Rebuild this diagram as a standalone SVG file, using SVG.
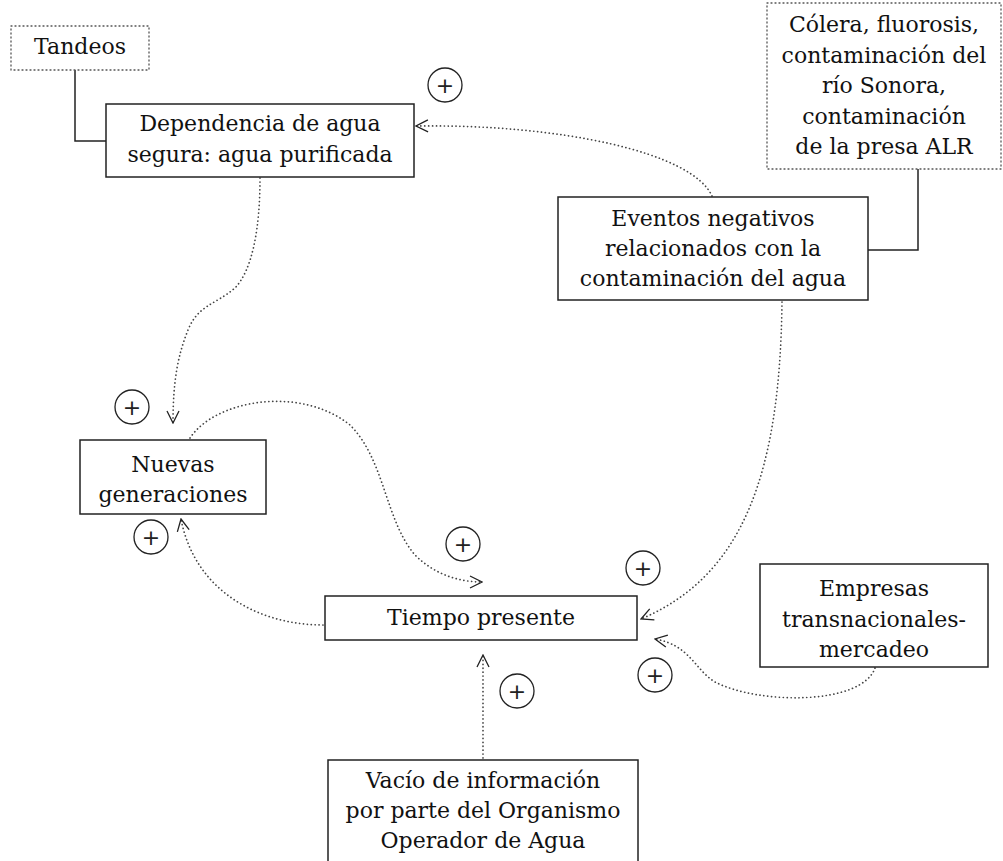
<svg xmlns="http://www.w3.org/2000/svg" width="1003" height="861" viewBox="0 0 1003 861">
  <style>
    .box { fill: #fff; stroke: #222; stroke-width: 1.5; }
    .note { fill: #fff; stroke: #555; stroke-width: 1.3; stroke-dasharray: 1 3; stroke-linecap: round; }
    .lbl { font-family: "DejaVu Serif", "Liberation Serif", serif; font-size: 22px; fill: #111; text-anchor: middle; }
    .link { fill: none; stroke: #444; stroke-width: 1.7; stroke-dasharray: 0.1 3.8; stroke-linecap: round; }
    .tie { fill: none; stroke: #222; stroke-width: 1.5; }
    .sign circle { fill: #fff; stroke: #222; stroke-width: 1.3; }
    .sign text { font-family: "DejaVu Sans", sans-serif; font-size: 22px; fill: #222; text-anchor: middle; }
  </style>
  <defs>
    <marker id="chev" viewBox="0 0 14 14" refX="13" refY="7" markerWidth="14" markerHeight="14" markerUnits="userSpaceOnUse" orient="auto">
      <path d="M1,1 L13,7 L1,13" fill="none" stroke="#222" stroke-width="1.3"/>
    </marker>
  </defs>
  <rect width="1003" height="861" fill="#fff"/>

  <!-- connectors -->
  <g id="connectors">
    <polyline class="tie" points="75,70 75,141 106,141"/>
    <polyline class="tie" points="918,169 918,250 868,250"/>
    <path class="link" marker-end="url(#chev)" d="M712,196 C692,152 560,124 416,126"/>
    <path class="link" marker-end="url(#chev)" d="M260,178 C260,230 252,270 235,288 C215,305 198,305 188,330 C178,355 173,380 173,423"/>
    <path class="link" marker-end="url(#chev)" d="M190,438 C215,400 300,385 350,425 C385,460 385,520 415,555 C435,575 460,582 482,582"/>
    <path class="link" marker-end="url(#chev)" d="M323,625 C260,625 195,592 181,519"/>
    <path class="link" marker-end="url(#chev)" d="M782,302 C780,470 745,575 641,619"/>
    <path class="link" marker-end="url(#chev)" d="M875,668 C862,705 760,705 715,682 C695,670 690,645 655,639"/>
    <path class="link" marker-end="url(#chev)" d="M483,758 L483,655"/>
  </g>

  <!-- polarity signs -->
  <g class="sign" id="sign-1"><circle cx="445" cy="85" r="17"/><text x="445" y="93">+</text></g>
  <g class="sign" id="sign-2"><circle cx="132" cy="407" r="17"/><text x="132" y="415">+</text></g>
  <g class="sign" id="sign-3"><circle cx="151" cy="537" r="17"/><text x="151" y="545">+</text></g>
  <g class="sign" id="sign-4"><circle cx="463" cy="544" r="17"/><text x="463" y="552">+</text></g>
  <g class="sign" id="sign-5"><circle cx="643" cy="568" r="17"/><text x="643" y="576">+</text></g>
  <g class="sign" id="sign-6"><circle cx="655" cy="675" r="17"/><text x="655" y="683">+</text></g>
  <g class="sign" id="sign-7"><circle cx="517" cy="691" r="17"/><text x="517" y="699">+</text></g>

  <g id="tandeos">
    <rect class="note" x="11" y="26" width="138" height="44"/>
    <text class="lbl" x="80" y="54">Tandeos</text>
  </g>

  <g id="dependencia">
    <rect class="box" x="106" y="104" width="308" height="73"/>
    <text class="lbl" x="260" y="131">Dependencia de agua</text>
    <text class="lbl" x="260" y="162">segura: agua purificada</text>
  </g>

  <g id="colera">
    <rect class="note" x="767" y="3" width="234" height="166"/>
    <text class="lbl" x="884" y="32">Cólera, fluorosis,</text>
    <text class="lbl" x="884" y="62.5">contaminación del</text>
    <text class="lbl" x="884" y="93">río Sonora,</text>
    <text class="lbl" x="884" y="123.5">contaminación</text>
    <text class="lbl" x="884" y="154">de la presa ALR</text>
  </g>

  <g id="eventos">
    <rect class="box" x="558" y="197" width="310" height="103"/>
    <text class="lbl" x="713" y="226">Eventos negativos</text>
    <text class="lbl" x="713" y="256">relacionados con la</text>
    <text class="lbl" x="713" y="286">contaminación del agua</text>
  </g>

  <g id="nuevas">
    <rect class="box" x="80" y="440" width="186" height="74"/>
    <text class="lbl" x="173" y="472">Nuevas</text>
    <text class="lbl" x="173" y="502">generaciones</text>
  </g>

  <g id="tiempo">
    <rect class="box" x="325" y="596" width="312" height="44"/>
    <text class="lbl" x="481" y="625">Tiempo presente</text>
  </g>

  <g id="empresas">
    <rect class="box" x="760" y="564" width="228" height="103"/>
    <text class="lbl" x="874" y="596">Empresas</text>
    <text class="lbl" x="874" y="627">transnacionales-</text>
    <text class="lbl" x="874" y="657">mercadeo</text>
  </g>

  <g id="vacio">
    <rect class="box" x="328" y="760" width="310" height="110"/>
    <text class="lbl" x="483" y="788">Vacío de información</text>
    <text class="lbl" x="483" y="818">por parte del Organismo</text>
    <text class="lbl" x="483" y="848">Operador de Agua</text>
  </g>
</svg>
